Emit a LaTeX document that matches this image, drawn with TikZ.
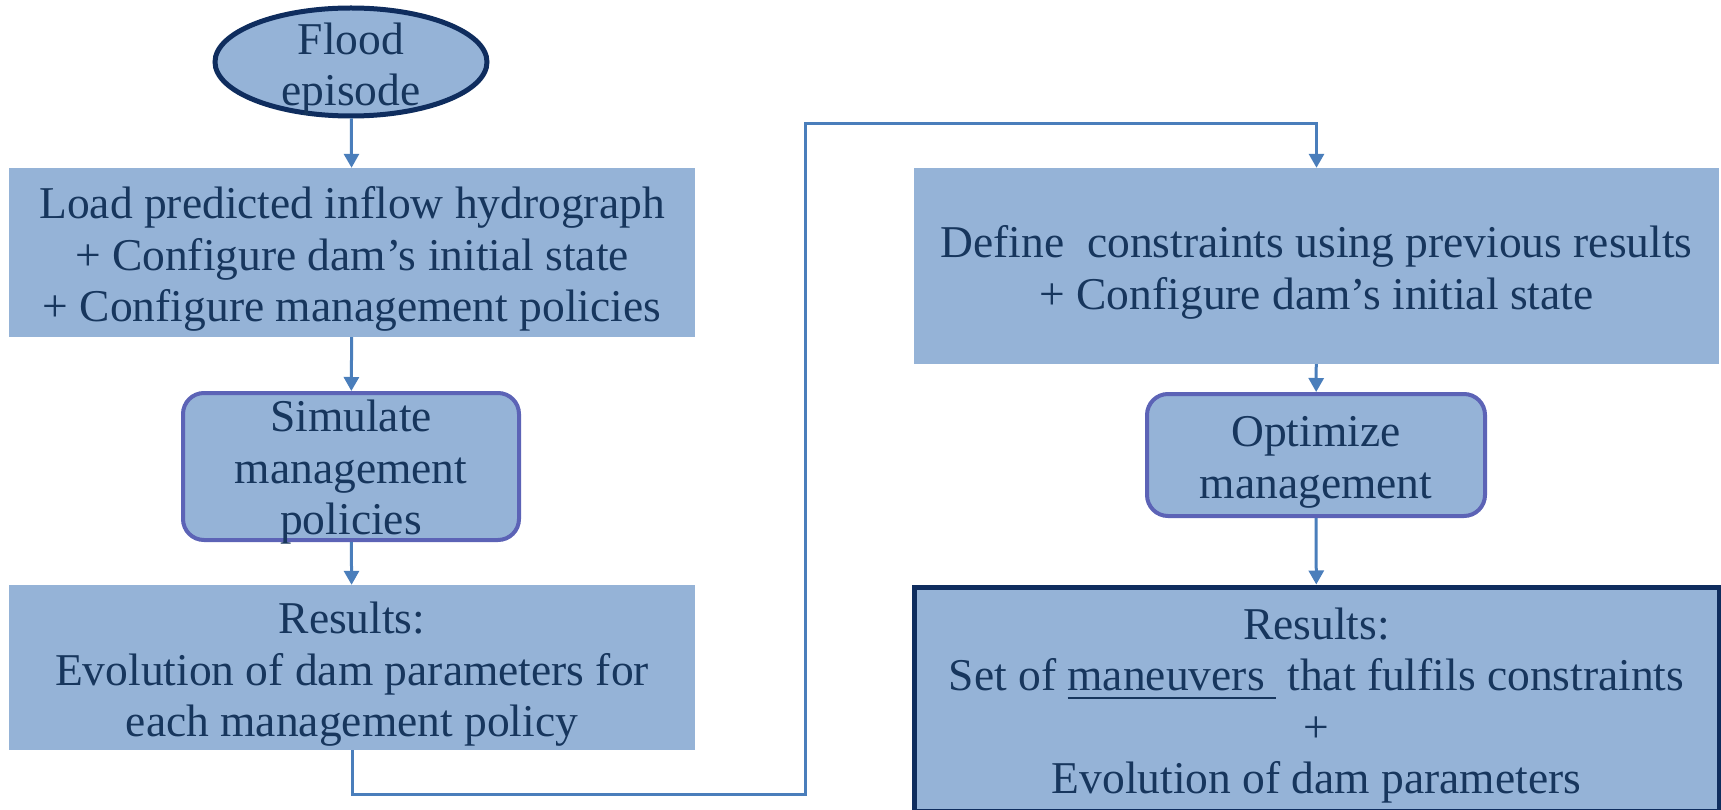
\documentclass[tikz,border=0pt]{standalone}
\usepackage{fontspec}
\setmainfont{Liberation Serif}
\usetikzlibrary{arrows.meta,shapes.geometric}

\definecolor{boxfill}{HTML}{95B3D7}
\definecolor{navytext}{HTML}{17365D}
\definecolor{darkedge}{HTML}{0F2D5E}
\definecolor{violetedge}{HTML}{5C63B6}
\definecolor{linkblue}{HTML}{4A7EBB}

\newcommand{\ulword}[1]{\setbox0\hbox{#1}\rlap{\rule[-8pt]{\wd0}{2.2pt}}\box0}
\newcommand{\topgap}{\rule{0pt}{45pt}}

\tikzset{
  txt/.style={text=navytext,font=\fontsize{45.5}{51.5}\selectfont,align=center,inner sep=0pt},
  plainbox/.style={txt,rectangle,fill=boxfill},
  roundbox/.style={txt,rectangle,rounded corners=21pt,fill=boxfill,draw=violetedge,line width=4pt},
  startoval/.style={txt,ellipse,fill=boxfill,draw=darkedge,line width=5pt},
  flow/.style={draw=linkblue,line width=3pt,-{Triangle[width=15pt,length=14pt]}}
}

\begin{document}
\begin{tikzpicture}[x=1pt,y=-1pt]
\clip (0,0) rectangle (1721,810);
\useasboundingbox (0,0) rectangle (1721,810);

% left column
\node[startoval,minimum width=272pt,minimum height=108pt,
  label={[txt,yshift=-7pt]center:{Flood\\episode}}] (flood) at (351,62) {};
\node[plainbox,minimum width=686pt,minimum height=169pt] (load) at (352,252.5)
  {\topgap Load predicted inflow hydrograph\\+ Configure dam's initial state\\+ Configure management policies};
\node[roundbox,minimum width=336pt,minimum height=147pt,
  label={[txt,yshift=-6pt]center:{Simulate\\management\\policies}}] (simulate) at (351,466.5) {};
\node[plainbox,minimum width=686pt,minimum height=165pt] (resleft) at (352,667.5)
  {\topgap Results:\\Evolution of dam parameters for\\each management policy};

% right column
\node[plainbox,minimum width=805pt,minimum height=196pt] (constr) at (1316.5,266)
  {\topgap Define\ \ constraints using previous results\\+ Configure dam's initial state};
\node[roundbox,minimum width=338pt,minimum height=122pt] (optim) at (1316,455)
  {\topgap Optimize\\management};
\node[plainbox,draw=darkedge,line width=5pt,minimum width=805pt,minimum height=224pt] (resright) at (1316.5,699)
  {\topgap Results:\\Set of \ulword{maneuvers\ }\ that fulfils constraints\\+\\Evolution of dam parameters};

\coordinate (turnlow) at (805,794);
\coordinate (turnhigh) at (805,124);

\draw[flow] (flood) -- (load);
\draw[flow] (load) -- (simulate);
\draw[flow] (simulate) -- (resleft);
\draw[flow] (resleft.south) |- (turnlow) -- (turnhigh) -| (constr.north);
\draw[flow] (constr) -- (optim);
\draw[flow] (optim) -- (resright);
\end{tikzpicture}
\end{document}
